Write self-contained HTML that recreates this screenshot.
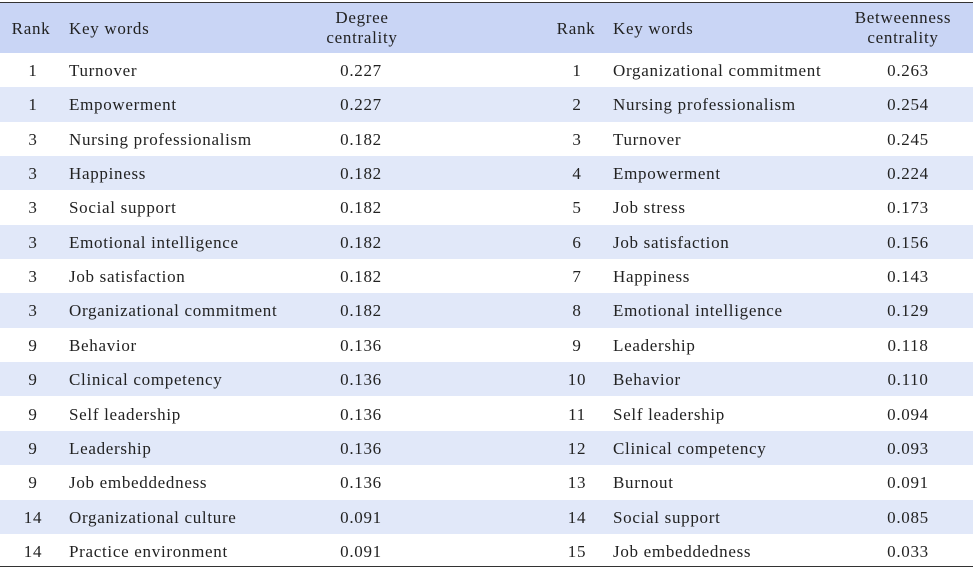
<!DOCTYPE html>
<html><head><meta charset="utf-8"><style>
body{margin:0;background:#fff;font-family:"Liberation Serif",serif;font-size:17px;letter-spacing:0.7px;color:#222}
#t{position:relative;width:973px;height:568px;overflow:hidden}
.row{position:absolute;left:0;width:973px;height:34.35px}
.c{position:absolute;top:1px;line-height:34.35px;white-space:nowrap}
.ctr{transform:translateX(-50%);text-align:center}
.hd{position:absolute;top:2px;left:0;width:973px;height:50px;background:#c9d5f5;border-top:1px solid #333;border-bottom:1px solid #555}
.hd .c{line-height:20px}
</style></head><body>
<div id="t">
<div class="hd">
<div class="c ctr" style="left:31px;top:16px">Rank</div>
<div class="c" style="left:69px;top:16px">Key words</div>
<div class="c ctr" style="left:362px;top:5px">Degree<br>centrality</div>
<div class="c ctr" style="left:576px;top:16px">Rank</div>
<div class="c" style="left:613px;top:16px">Key words</div>
<div class="c ctr" style="left:903px;top:5px">Betweenness<br>centrality</div>
</div>
<div id="body"></div>
<div style="position:absolute;left:0;top:566px;width:973px;height:1px;background:#333"></div>
</div>
<script>
const ranksA=["1","1","3","3","3","3","3","3","9","9","9","9","9","14","14"];
const wordsA=["Turnover","Empowerment","Nursing professionalism","Happiness","Social support","Emotional intelligence","Job satisfaction","Organizational commitment","Behavior","Clinical competency","Self leadership","Leadership","Job embeddedness","Organizational culture","Practice environment"];
const valsA=["0.227","0.227","0.182","0.182","0.182","0.182","0.182","0.182","0.136","0.136","0.136","0.136","0.136","0.091","0.091"];
const ranksB=["1","2","3","4","5","6","7","8","9","10","11","12","13","14","15"];
const wordsB=["Organizational commitment","Nursing professionalism","Turnover","Empowerment","Job stress","Job satisfaction","Happiness","Emotional intelligence","Leadership","Behavior","Self leadership","Clinical competency","Burnout","Social support","Job embeddedness"];
const valsB=["0.263","0.254","0.245","0.224","0.173","0.156","0.143","0.129","0.118","0.110","0.094","0.093","0.091","0.085","0.033"];
const body=document.getElementById('body');
function cell(row,text,left,center,name){
  const d=document.createElement('div');
  d.className='c'+(center?' ctr':'');
  d.style.left=left+'px';
  d.textContent=text;
  
  
  row.appendChild(d);
}
for(let i=0;i<wordsA.length;i++){
  const r=document.createElement('div');
  r.className='row';
  r.style.top=(53+i*34.35)+'px';
  r.style.background=i%2?'#e1e8f9':'#fff';
  
  
  cell(r,ranksA[i],33,true,'degree-rank');
  cell(r,wordsA[i],69,false,'degree-keyword');
  cell(r,valsA[i],361,true,'degree-value');
  cell(r,ranksB[i],577,true,'betweenness-rank');
  cell(r,wordsB[i],613,false,'betweenness-keyword');
  cell(r,valsB[i],908,true,'betweenness-value');
  body.appendChild(r);
}
</script>
</body></html>
